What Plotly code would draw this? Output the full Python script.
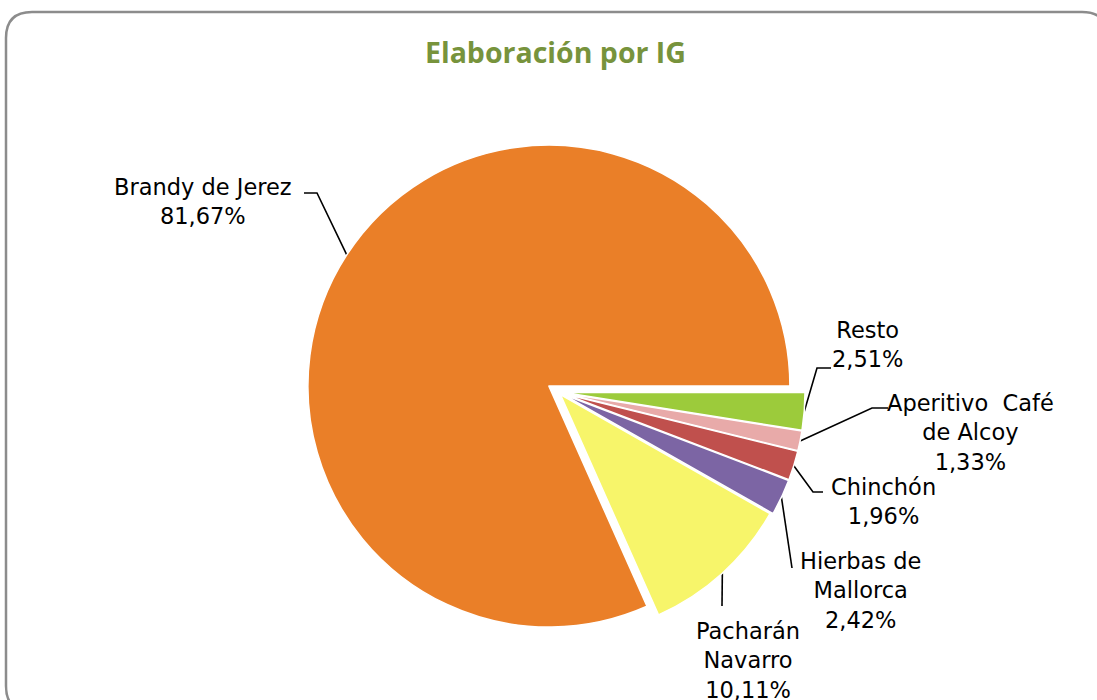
import math
import plotly.graph_objects as go

# ---- data (clockwise from 3 o'clock) ----
categories = ["Resto", "Aperitivo  Café<br>de Alcoy", "Chinchón", "Hierbas de<br>Mallorca",
              "Pacharán<br>Navarro", "Brandy de Jerez"]
values = [2.51, 1.33, 1.96, 2.42, 10.11, 81.67]
value_labels = ["2,51%", "1,33%", "1,96%", "2,42%", "10,11%", "81,67%"]

# ---- styles / layout ----
colors = ["#9CCB3B", "#E8AAA9", "#C0504D", "#7C65A4", "#F7F56A", "#EA7F28"]
pulls = [0.025, 0.025, 0.025, 0.025, 0.015, 0.045]
W, H = 1097, 700
OFF = 0                              # page body margin (removed by post_script)
CX, CY, R = 558, 392, 241          # pie centre / radius in window pixels
max_pull = max(pulls)
half = R * (1 + max_pull)
dom_x = [(CX - OFF - half) / W, (CX - OFF + half) / W]
dom_y = [1 - (CY - OFF + half) / H, 1 - (CY - OFF - half) / H]

# label centres and leader line waypoints (window pixel coords, label side)
label_pos = [(867, 344), (970, 432), (883, 501), (860, 590), (748, 660), (203, 201)]
leader_way = [
    [(817, 368), (831, 368)],
    [(872, 408), (888, 408)],
    [(813, 492), (823, 492)],
    [(792, 568)],
    [(722, 606)],
    [(317, 193), (304, 193)],
]

fig = go.Figure()

fig.add_trace(go.Pie(
    labels=[c.replace("<br>", " ") for c in categories],
    values=values,
    sort=False,
    direction="clockwise",
    rotation=90,
    pull=pulls,
    marker=dict(colors=colors, line=dict(color="white", width=1.5)),
    textinfo="none",
    hoverinfo="label+percent",
    showlegend=False,
    domain=dict(x=dom_x, y=dom_y),
))

# leader lines computed from slice mid-angles
total = sum(values)
xs, ys = [], []
cum = 0.0
for v, p, way in zip(values, pulls, leader_way):
    mid = (cum + v / 2) / total * 2 * math.pi
    cum += v
    rr = R * (1 + p)
    ax = CX + rr * math.cos(mid)
    ay = CY + rr * math.sin(mid)
    xs += [ax] + [w[0] for w in way] + [None]
    ys += [ay] + [w[1] for w in way] + [None]

fig.add_trace(go.Scatter(x=xs, y=ys, mode="lines",
                         line=dict(color="black", width=1.6),
                         hoverinfo="skip", showlegend=False))

annotations = []
for cat, vl, (lx, ly) in zip(categories, value_labels, label_pos):
    annotations.append(dict(
        x=lx, y=ly, xref="x", yref="y", text=f"{cat}<br>{vl}", showarrow=False,
        xanchor="center", yanchor="middle", align="center",
        font=dict(family="DejaVu Sans", size=22.5, color="black")))

annotations.append(dict(
    x=555, y=52, xref="x", yref="y", text="<b>Elaboración por IG</b>", showarrow=False,
    xanchor="center", yanchor="middle",
    font=dict(family="Open Sans", size=28.5, color="#77933C")))

# rounded frame
rad = 26
x0, y0, x1, y1 = 6, 12, 1108, 712
frame = (f"M {x0},{y1 - rad} L {x0},{y0 + rad} Q {x0},{y0} {x0 + rad},{y0} "
         f"L {x1 - rad},{y0} Q {x1},{y0} {x1},{y0 + rad} L {x1},{y1 - rad} "
         f"Q {x1},{y1} {x1 - rad},{y1} L {x0 + rad},{y1} Q {x0},{y1} {x0},{y1 - rad} Z")

fig.update_layout(
    width=W, height=H,
    margin=dict(l=0, r=0, t=0, b=0),
    paper_bgcolor="white", plot_bgcolor="rgba(0,0,0,0)",
    xaxis=dict(range=[OFF, OFF + W], visible=False, fixedrange=True, domain=[0, 1]),
    yaxis=dict(range=[OFF + H, OFF], visible=False, fixedrange=True, domain=[0, 1]),
    annotations=annotations,
    shapes=[dict(type="path", path=frame, xref="x", yref="y",
                 line=dict(color="#8C8C8C", width=2.5), layer="below")],
    showlegend=False,
)

fig.write_html("out.html", config={"displayModeBar": False},
               post_script="document.body.style.margin='0';document.body.style.overflow='hidden';")
